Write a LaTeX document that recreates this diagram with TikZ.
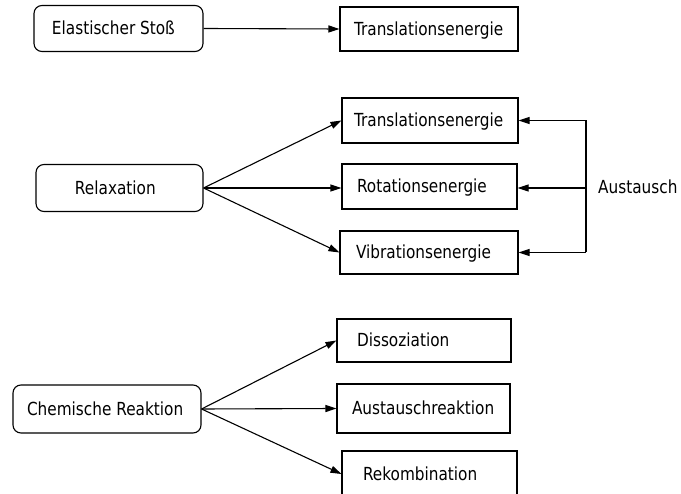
\documentclass[tikz,border=0pt]{standalone}
\usepackage{fontspec}
\setmainfont{DejaVu Sans}[FakeStretch=0.85]
\usetikzlibrary{arrows.meta}

\newcommand{\btext}[3]{\makebox[#1pt][l]{\hspace*{#2pt}#3}}

\tikzset{
  schrift/.style={font=\fontsize{18}{21}\selectfont, text height=13pt, text depth=0pt},
  kasten/.style={draw, line width=1.1pt, inner sep=0pt, schrift},
  rund/.style={kasten, rounded corners=8pt},
  pfeil/.style={line width=1.1pt, -{Triangle[length=11pt, width=7pt]}},
  linie/.style={line width=1.1pt}
}

\begin{document}
\begin{tikzpicture}[x=1pt, y=-1pt]
\clip (0, 0) rectangle (681, 494);

% elastischer Stoss
\node[rund, minimum height=46pt] (stoss) at (118.5, 28.5) {\btext{169}{18}{Elastischer Stoß}};
\node[kasten, minimum height=44pt] (transE) at (429, 29) {\btext{178}{14}{Translationsenergie}};
\draw[pfeil] (stoss.east) -- (transE.west);

% Relaxation
\node[rund, minimum height=47pt] (relax) at (119.5, 188) {\btext{167}{39}{Relaxation}};
\node[kasten, minimum height=45pt] (trans) at (430, 120.5) {\btext{176}{12}{Translationsenergie}};
\node[kasten, minimum height=45pt] (rot) at (429.5, 186.5) {\btext{175}{15}{Rotationsenergie}};
\node[kasten, minimum height=43pt] (vib) at (429, 252.5) {\btext{178}{16}{Vibrationsenergie}};
\draw[pfeil] (relax.east) -- (trans.west);
\draw[pfeil] (relax.east) -- (relax.east -| rot.west);
\draw[pfeil] (relax.east) -- (vib.west);

% Austausch
\coordinate (jt) at (586, 120.5);
\coordinate (jr) at (586, 188);
\coordinate (jv) at (586, 252.5);
\node[anchor=west, inner sep=0pt, schrift] (austausch) at (598, 187) {Austausch};
\draw[linie] (jt) -- (jv);
\draw[pfeil] (jt) -- (trans.east);
\draw[pfeil] (jr) -- (jr -| rot.east);
\draw[pfeil] (jv) -- (vib.east);

% chemische Reaktion
\node[rund, minimum height=48pt] (chem) at (107, 409) {\btext{188}{14}{Chemische Reaktion}};
\node[kasten, minimum height=43pt] (diss) at (424, 340.5) {\btext{174}{20}{Dissoziation}};
\node[kasten, minimum height=49pt] (aust) at (423.5, 408.5) {\btext{173}{15}{Austauschreaktion}};
\node[kasten, minimum height=46pt] (rekom) at (429.5, 474) {\btext{175}{21}{Rekombination}};
\draw[pfeil] (chem.east) -- (diss.west);
\draw[pfeil] (chem.east) -- (aust.west);
\draw[pfeil] (chem.east) -- (rekom.west);
\end{tikzpicture}
\end{document}
